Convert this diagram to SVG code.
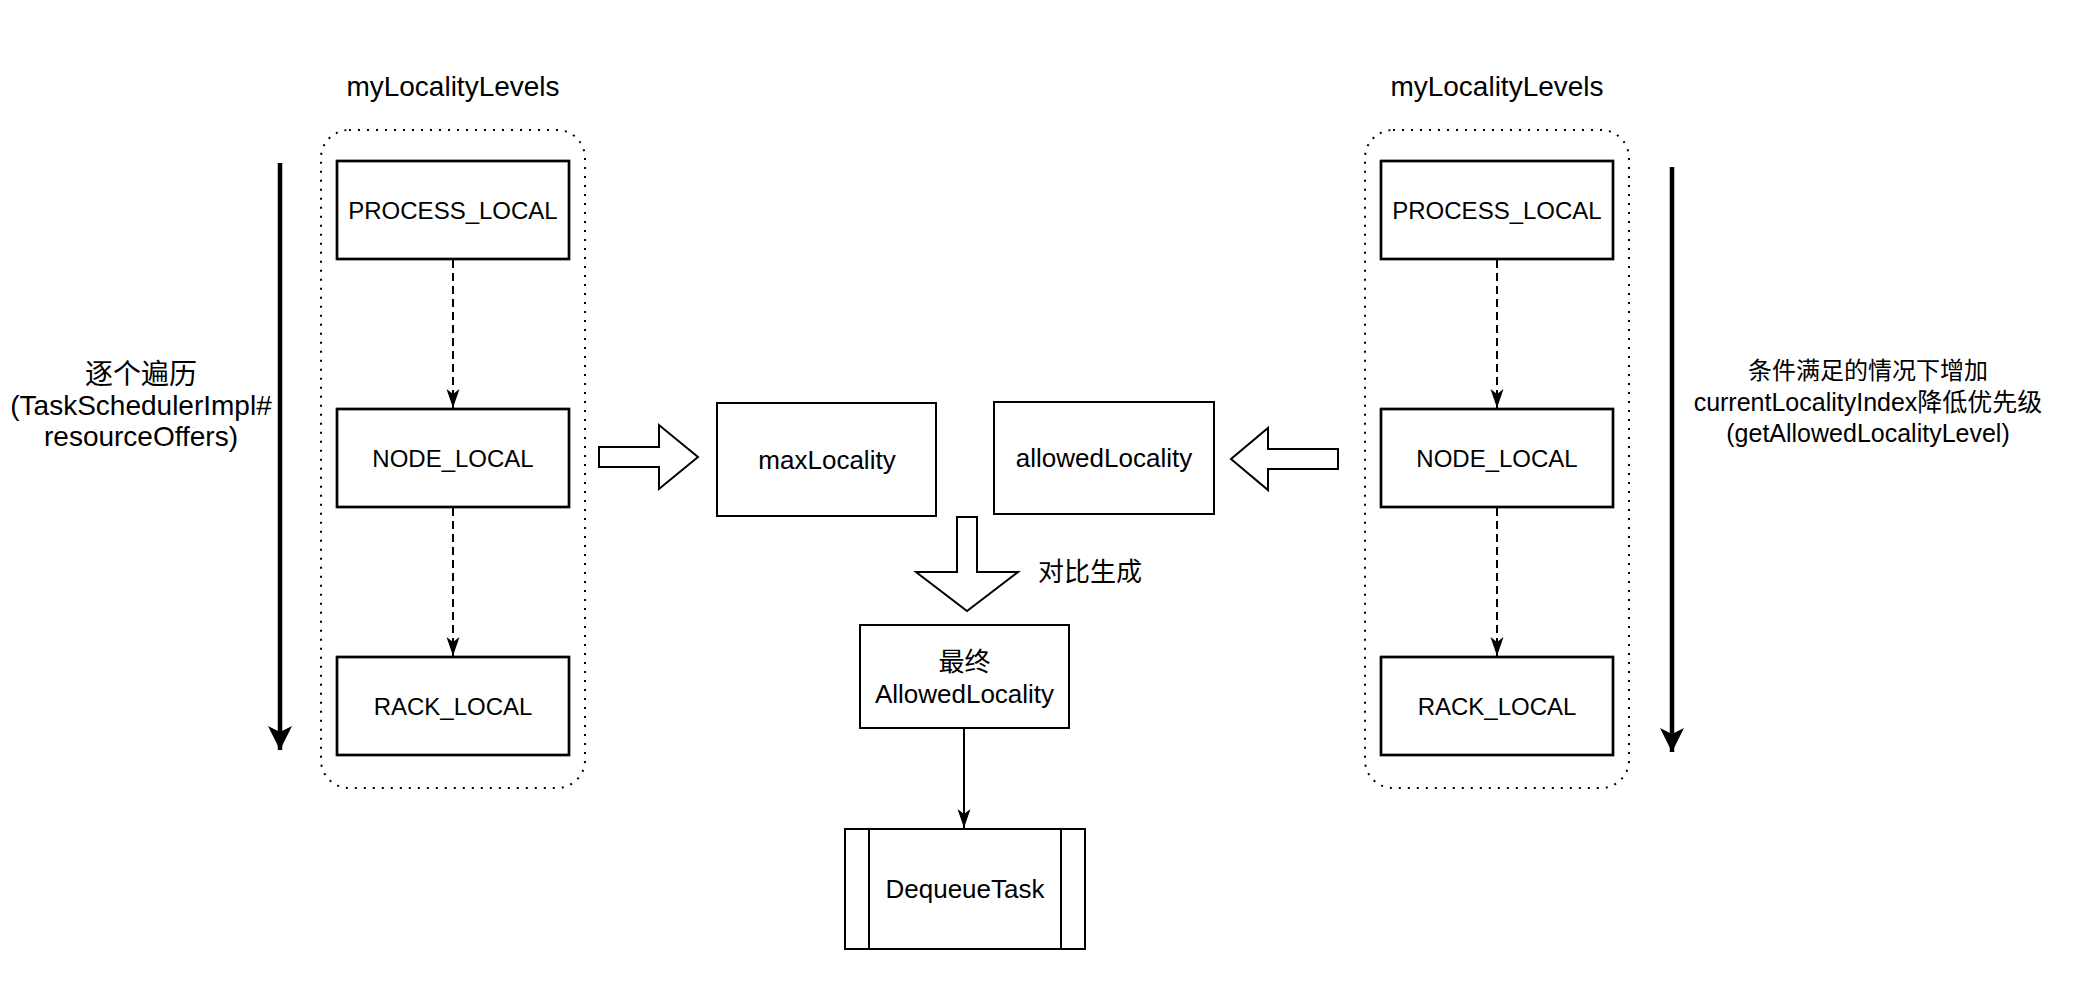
<svg xmlns="http://www.w3.org/2000/svg" width="2096" height="984" viewBox="0 0 2096 984">
<defs>
<style>
text{font-family:"Liberation Sans","Noto Sans CJK SC",sans-serif;fill:#000;text-anchor:middle}
.box{fill:#fff;stroke:#000;stroke-width:2.7}
.mbox{fill:#fff;stroke:#000;stroke-width:2}
.cont{fill:none;stroke:#000;stroke-width:2;stroke-dasharray:2 7}
.blk{fill:#fff;stroke:#000;stroke-width:2;stroke-linejoin:miter}
.dash{fill:none;stroke:#000;stroke-width:2;stroke-dasharray:8 5}
.solid{fill:none;stroke:#000;stroke-width:2}
.thick{fill:none;stroke:#000;stroke-width:4.5}
.t24{font-size:24px}
.t25{font-size:25px}
.t26{font-size:26px}
.t28{font-size:28px}
</style>
<marker id="arr" markerUnits="userSpaceOnUse" markerWidth="20" markerHeight="16" viewBox="0 0 20 16" refX="19" refY="8" orient="auto">
<path d="M0,1.5 L19,8 L0,14.5 L5,8 Z" fill="#000"/>
</marker>
<marker id="bigarr" markerUnits="userSpaceOnUse" markerWidth="26" markerHeight="26" viewBox="0 0 26 26" refX="24" refY="12.5" orient="auto">
<path d="M0,0.5 L24,12.5 L0,24.5 L6,12.5 Z" fill="#000"/>
</marker>
</defs>
<rect x="0" y="0" width="2096" height="984" fill="#fff"/>

<g id="left-title"><text class="t28" x="453" y="96">myLocalityLevels</text></g>
<g id="right-title"><text class="t28" x="1497" y="96">myLocalityLevels</text></g>

<g id="left-container"><rect class="cont" x="321" y="130" width="264" height="658" rx="28" ry="28"/></g>
<g id="right-container"><rect class="cont" x="1365" y="130" width="264" height="658" rx="28" ry="28"/></g>

<g id="left-process-local"><rect class="box" x="337" y="161" width="232" height="98"/><text class="t24" x="453" y="219">PROCESS_LOCAL</text></g>
<g id="left-node-local"><rect class="box" x="337" y="409" width="232" height="98"/><text class="t24" x="453" y="467">NODE_LOCAL</text></g>
<g id="left-rack-local"><rect class="box" x="337" y="657" width="232" height="98"/><text class="t24" x="453" y="715">RACK_LOCAL</text></g>

<g id="right-process-local"><rect class="box" x="1381" y="161" width="232" height="98"/><text class="t24" x="1497" y="219">PROCESS_LOCAL</text></g>
<g id="right-node-local"><rect class="box" x="1381" y="409" width="232" height="98"/><text class="t24" x="1497" y="467">NODE_LOCAL</text></g>
<g id="right-rack-local"><rect class="box" x="1381" y="657" width="232" height="98"/><text class="t24" x="1497" y="715">RACK_LOCAL</text></g>

<g id="max-locality"><rect class="mbox" x="717" y="403" width="219" height="113"/><text class="t26" x="827" y="469">maxLocality</text></g>
<g id="allowed-locality"><rect class="mbox" x="994" y="402" width="220" height="112"/><text class="t26" x="1104" y="467">allowedLocality</text></g>
<g id="final-allowed-locality"><rect class="mbox" x="860" y="625" width="209" height="103"/><text class="t26" x="964.5" y="671">最终</text><text class="t26" x="964.5" y="703">AllowedLocality</text></g>
<g id="dequeue-task"><rect class="mbox" x="845" y="829" width="240" height="120"/><line class="solid" x1="869" y1="829" x2="869" y2="949"/><line class="solid" x1="1061" y1="829" x2="1061" y2="949"/><text class="t26" x="965" y="898">DequeueTask</text></g>

<g id="left-label"><text class="t28" x="141" y="384">逐个遍历</text><text class="t28" x="141" y="415">(TaskSchedulerImpl#</text><text class="t28" x="141" y="446">resourceOffers)</text></g>
<g id="right-label"><text class="t24" x="1868" y="379">条件满足的情况下增加</text><text class="t25" x="1868" y="411">currentLocalityIndex降低优先级</text><text class="t25" x="1868" y="442">(getAllowedLocalityLevel)</text></g>
<g id="compare-label"><text class="t26" x="1038" y="581" style="text-anchor:start">对比生成</text></g>

<g id="connectors">
<line class="thick" x1="280" y1="163" x2="280" y2="750" marker-end="url(#bigarr)"/>
<line class="thick" x1="1672" y1="167" x2="1672" y2="752" marker-end="url(#bigarr)"/>
<line class="dash" x1="453" y1="260" x2="453" y2="408" marker-end="url(#arr)"/>
<line class="dash" x1="453" y1="508" x2="453" y2="656" marker-end="url(#arr)"/>
<line class="dash" x1="1497" y1="260" x2="1497" y2="408" marker-end="url(#arr)"/>
<line class="dash" x1="1497" y1="508" x2="1497" y2="656" marker-end="url(#arr)"/>
<line class="solid" x1="964" y1="729" x2="964" y2="828" marker-end="url(#arr)"/>
<polygon class="blk" points="599,447 659,447 659,425 698,457 659,489 659,467 599,467"/>
<polygon class="blk" points="1338,449 1268,449 1268,428 1231,459 1268,490 1268,469 1338,469"/>
<polygon class="blk" points="957,517 977,517 977,572 1018,572 967,611 916,572 957,572"/>
</g>
</svg>
